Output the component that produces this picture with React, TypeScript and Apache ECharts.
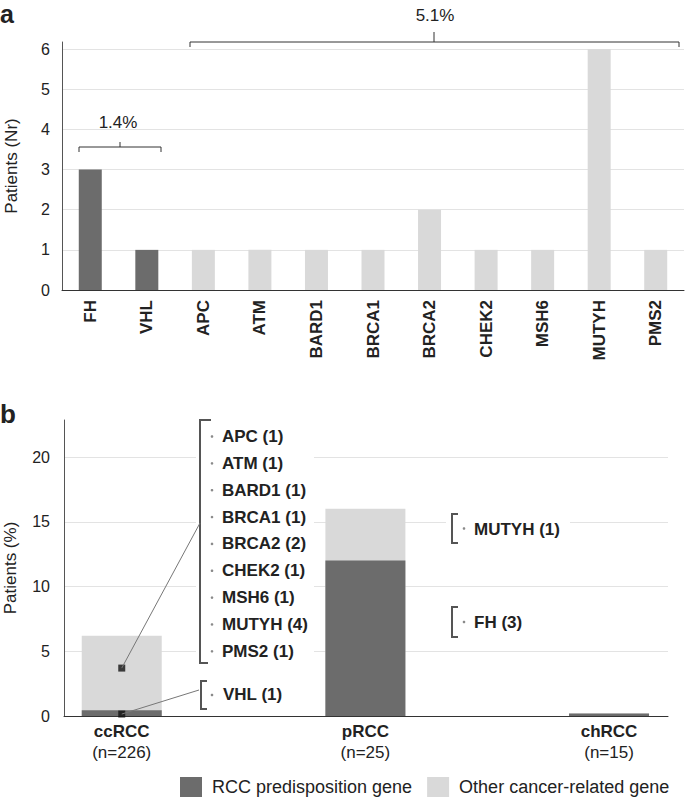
import React, { useEffect, useRef } from 'react';
import * as echarts from 'echarts';

const FONT = '"Liberation Sans", Arial, Helvetica, sans-serif';
const DARK = '#6c6c6c';
const LIGHT = '#d9d9d9';
const GRID_C = '#e3e3e3';
const INK = '#222222';

// Panel a: number of patients per gene
const geneNames = ['FH', 'VHL', 'APC', 'ATM', 'BARD1', 'BRCA1', 'BRCA2', 'CHEK2', 'MSH6', 'MUTYH', 'PMS2'];
const rccGeneCounts = [3, 1, null, null, null, null, null, null, null, null, null];
const otherGeneCounts = [null, null, 1, 1, 1, 1, 2, 1, 1, 6, 1];
const bracketLabelsA = ['1.4%', '5.1%'];

// Panel b: percentage of patients per RCC subtype
const subtypes = ['ccRCC', 'pRCC', 'chRCC'];
const cohortN = [226, 25, 15];
const rccPct = [0.44, 12, 0.2];
const otherPct = [5.75, 4, 0];
const anchorPct = [3.7, 0.15];
const ccOtherList = ['APC (1)', 'ATM (1)', 'BARD1 (1)', 'BRCA1 (1)', 'BRCA2 (2)', 'CHEK2 (1)', 'MSH6 (1)', 'MUTYH (4)', 'PMS2 (1)'];
const ccRccList = ['VHL (1)'];
const pOtherList = ['MUTYH (1)'];
const pRccList = ['FH (3)'];
const legendNames = ['RCC predisposition gene', 'Other cancer-related gene'];

export default function App() {
  const ref = useRef<HTMLDivElement>(null);
  useEffect(() => {
    const chart = echarts.init(ref.current as HTMLDivElement, null, { renderer: 'svg' });
    const tickLabel = { color: INK, fontSize: 16, fontFamily: FONT };
    // light bar shows the total (RCC + other); the dark RCC part is overlaid from the base
    const totalPct = rccPct.map((v, i) => v + otherPct[i]);
    const option: any = {
      animation: false,
      backgroundColor: '#ffffff',
      textStyle: { fontFamily: FONT },
      grid: [
        { left: 62, top: 42, width: 622, height: 248, outerBoundsMode: 'none' },
        { left: 64, top: 420, width: 604, height: 296, outerBoundsMode: 'none' },
      ],
      legend: {
        data: legendNames,
        left: 180,
        top: 777,
        itemWidth: 22,
        itemHeight: 20,
        itemGap: 15,
        icon: 'rect',
        selectedMode: false,
        padding: 0,
        textStyle: { fontSize: 18, color: INK, fontFamily: FONT, padding: [0, 0, 0, 5] },
      },
      xAxis: [
        {
          type: 'category',
          gridIndex: 0,
          data: geneNames,
          axisLine: { lineStyle: { color: '#333', width: 1 } },
          axisTick: { show: false },
          axisLabel: { rotate: 90, interval: 0, margin: 10, fontWeight: 'bold', fontSize: 17, color: INK, fontFamily: FONT },
        },
        {
          type: 'value',
          gridIndex: 1,
          min: -0.237,
          max: 2.242,
          splitLine: { show: false },
          axisLine: { show: true, onZero: false, lineStyle: { color: '#333', width: 1 } },
          axisTick: { show: false },
          axisLabel: {
            customValues: [0, 1, 2],
            margin: 5,
            formatter: (v: number) => {
              const i = Math.round(v);
              return `{b|${subtypes[i]}}\n{n|(n=${cohortN[i]})}`;
            },
            rich: {
              b: { fontWeight: 'bold', fontSize: 17, color: INK, fontFamily: FONT, lineHeight: 21 },
              n: { fontSize: 17, color: INK, fontFamily: FONT, lineHeight: 21 },
            },
          },
        },
      ],
      yAxis: [
        {
          type: 'value',
          gridIndex: 0,
          min: 0,
          max: 6.18,
          interval: 1,
          name: 'Patients (Nr)',
          nameLocation: 'middle',
          nameGap: 42,
          nameTextStyle: { fontSize: 17, color: INK, fontFamily: FONT },
          axisLine: { show: true, onZero: false, lineStyle: { color: '#555', width: 1 } },
          axisTick: { show: false },
          axisLabel: { ...tickLabel, margin: 12, showMaxLabel: false, formatter: (v: number) => (Number.isInteger(v) ? String(v) : '') },
          splitLine: { show: true, showMaxLine: false, lineStyle: { color: GRID_C, width: 1 } },
        },
        {
          type: 'value',
          gridIndex: 1,
          min: 0,
          max: 22.86,
          interval: 5,
          name: 'Patients (%)',
          nameLocation: 'middle',
          nameGap: 45,
          nameTextStyle: { fontSize: 17, color: INK, fontFamily: FONT },
          axisLine: { show: true, onZero: false, lineStyle: { color: '#555', width: 1 } },
          axisTick: { show: false },
          axisLabel: { ...tickLabel, margin: 14, showMaxLabel: false, formatter: (v: number) => (v % 5 === 0 ? String(v) : '') },
          splitLine: { show: true, showMaxLine: false, lineStyle: { color: GRID_C, width: 1 } },
        },
      ],
      series: [
        { type: 'bar', name: legendNames[0], xAxisIndex: 0, yAxisIndex: 0, stack: 'a', barWidth: 23, data: rccGeneCounts, itemStyle: { color: DARK } },
        { type: 'bar', name: legendNames[1], xAxisIndex: 0, yAxisIndex: 0, stack: 'a', barWidth: 23, data: otherGeneCounts, itemStyle: { color: LIGHT } },
        { type: 'bar', name: legendNames[1], xAxisIndex: 1, yAxisIndex: 1, barWidth: 80, barGap: '-100%', data: totalPct.map((v, i) => [i, v]), itemStyle: { color: LIGHT } },
        { type: 'bar', name: legendNames[0], xAxisIndex: 1, yAxisIndex: 1, barWidth: 80, barGap: '-100%', data: rccPct.map((v, i) => [i, v]), itemStyle: { color: DARK } },
        {
          type: 'scatter', name: 'anchor', xAxisIndex: 1, yAxisIndex: 1, symbol: 'rect', symbolSize: 7, z: 5,
          data: anchorPct.map((v) => [0, v]), itemStyle: { color: '#111' }, silent: true,
        },
      ],
    };
    chart.setOption(option);

    const p1 = chart.convertToPixel({ seriesIndex: 4 }, [0, anchorPct[0]]) as number[];
    const p2 = chart.convertToPixel({ seriesIndex: 4 }, [0, anchorPct[1]]) as number[];

    const g: any[] = [];
    const txt = (x: number, y: number, text: string, size: number, bold: boolean, align = 'left') => ({
      type: 'text', x, y, z: 20,
      style: { text, fontSize: size, fontWeight: bold ? 'bold' : 'normal', fontFamily: FONT, fill: INK, align, verticalAlign: 'middle' },
    });
    const poly = (pts: number[][], stroke: string, lw: number) => ({
      type: 'polyline', z: 20, shape: { points: pts }, style: { stroke, lineWidth: lw, fill: 'none' },
    });
    const dot = (x: number, y: number) => ({ type: 'circle', z: 20, shape: { cx: x, cy: y, r: 1.3 }, style: { fill: '#8a8a8a' } });
    const white = (x: number, y: number, w: number, h: number) => ({ type: 'rect', z: 15, shape: { x, y, width: w, height: h }, style: { fill: '#ffffff' } });

    // panel labels
    g.push(txt(0, 14, 'a', 25, true));
    g.push(txt(0, 414, 'b', 26, true));

    // panel a brackets
    g.push(poly([[79, 152], [79, 147], [161, 147], [161, 152]], '#333', 1));
    g.push(poly([[120, 147], [120, 142]], '#333', 1));
    g.push(txt(118, 122, bracketLabelsA[0], 17, false, 'center'));
    g.push(poly([[190, 47], [190, 42], [679, 42], [679, 47]], '#333', 1));
    g.push(poly([[434, 42], [434, 32]], '#333', 1));
    g.push(txt(435, 15, bracketLabelsA[1], 17, false, 'center'));

    // panel b: ccRCC other genes list
    g.push(white(196, 418, 118, 250));
    g.push(poly([[211, 420], [200, 420], [200, 663], [208, 663]], '#555', 2));
    ccOtherList.forEach((s, i) => {
      const y = 436.5 + i * 26.85;
      g.push(dot(212, y));
      g.push(txt(222, y, s, 17, true));
    });
    // ccRCC RCC genes
    g.push(poly([[207, 681], [201, 681], [201, 709], [207, 709]], '#555', 2));
    ccRccList.forEach((s) => {
      g.push(dot(212, 695));
      g.push(txt(223, 694.5, s, 17, true));
    });
    // pRCC other genes
    g.push(white(446, 511, 124, 36));
    g.push(poly([[458, 514], [452, 514], [452, 543], [458, 543]], '#555', 2));
    pOtherList.forEach((s) => {
      g.push(dot(464, 528.5));
      g.push(txt(474, 529, s, 17, true));
    });
    // pRCC RCC genes
    g.push(poly([[458, 607], [452, 607], [452, 637], [458, 637]], '#555', 2));
    pRccList.forEach((s) => {
      g.push(dot(464, 622));
      g.push(txt(474, 622.5, s, 17, true));
    });
    // connectors
    g.push({ type: 'line', z: 21, shape: { x1: p1[0], y1: p1[1], x2: 200, y2: 523 }, style: { stroke: '#777', lineWidth: 1 } });
    g.push({ type: 'line', z: 21, shape: { x1: p2[0], y1: p2[1], x2: 199, y2: 690 }, style: { stroke: '#777', lineWidth: 1 } });

    chart.setOption({ graphic: { elements: g } });
    return () => chart.dispose();
  }, []);
  return <div ref={ref} style={{ position: 'absolute', left: 0, top: 0, width: 685, height: 800, background: '#fff' }} />;
}
